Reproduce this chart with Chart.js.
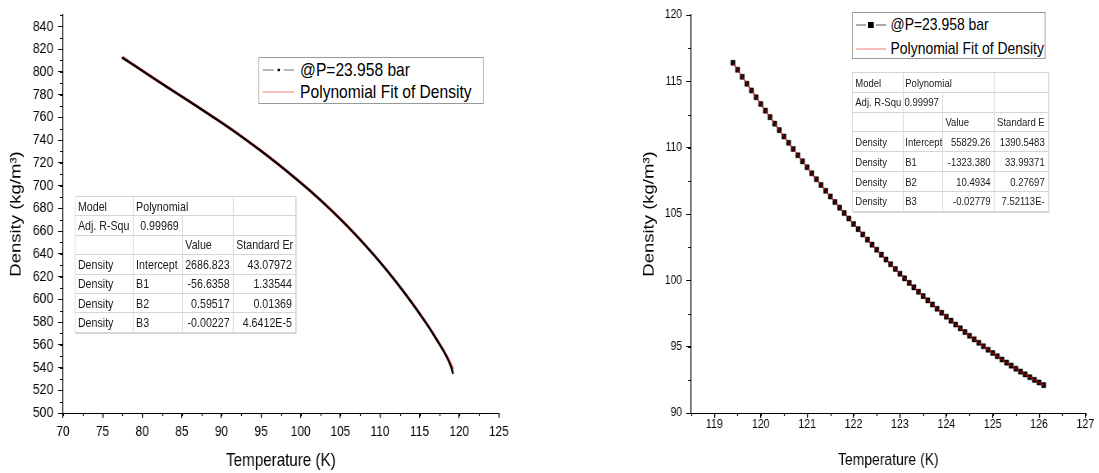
<!DOCTYPE html>
<html>
<head>
<meta charset="utf-8">
<title>Density vs Temperature</title>
<script src="https://cdn.jsdelivr.net/npm/chart.js@4.4.1/dist/chart.umd.min.js"></script>
<style>
  html, body { margin: 0; background: #fff; overflow: hidden; }
  /* the source figure is squeezed horizontally, so the whole page is drawn wide and scaled */
  #fig { position: relative; width: 1341px; height: 473px; background: #fff;
         transform: scaleX(0.82); transform-origin: 0 0;
         font-family: 'Liberation Sans', Arial, sans-serif; color: #000; }
  #fig canvas { position: absolute; top: 0; }
  .legend { position: absolute; box-sizing: border-box; border: 1px solid #999; background: #fff; }
  .legend .row { position: absolute; left: 0; right: 0; height: 20px; line-height: 20px; white-space: nowrap; }
  .legend svg { position: absolute; top: 5px; }
  .legend span { position: absolute; top: 0; }
  table.stats { position: absolute; border-collapse: collapse; table-layout: fixed; background: #fff;
                border: 1px solid #a8a8a8; box-shadow: 1px 1px 0 #d8d8d8; color: #1a1a1a; }
  table.stats td { border: 1px solid #d6d6d6; padding: 0 0 0 3px; overflow: hidden; white-space: nowrap; line-height: 1; }
  table.stats td.r { text-align: right; padding: 0 4px 0 0; }
  table.stats td.t { padding-left: 2px; }
</style>
</head>
<body>
<div id="fig">
  <canvas id="liquid" width="671" height="473" style="left:0"></canvas>
  <canvas id="vapor" width="670" height="473" style="left:671px"></canvas>

  <div class="legend" style="left:315px; top:57px; width:275px; height:47px; font-size:19px">
    <div class="row" style="top:2px">
      <svg width="39" height="10" style="left:4px">
        <line x1="0" y1="5" x2="14" y2="5" stroke="#777" stroke-width="1.2"/>
        <rect x="18.5" y="3.8" width="3" height="2.4" fill="#000"/>
        <line x1="26" y1="5" x2="39" y2="5" stroke="#777" stroke-width="1.2"/>
      </svg>
      <span style="left:50px">@P=23.958 bar</span>
    </div>
    <div class="row" style="top:24px">
      <svg width="39" height="10" style="left:4px">
        <line x1="0" y1="5" x2="39" y2="5" stroke="#f07070" stroke-width="1"/>
      </svg>
      <span style="left:50px">Polynomial Fit of Density</span>
    </div>
  </div>

  <div class="legend" style="left:1039px; top:12px; width:236px; height:47px; font-size:17px">
    <div class="row" style="top:2px">
      <svg width="37" height="10" style="left:4px">
        <line x1="0" y1="5" x2="12" y2="5" stroke="#555" stroke-width="1.2"/>
        <rect x="14.5" y="2" width="7" height="6" fill="#000"/>
        <line x1="24" y1="5" x2="37" y2="5" stroke="#555" stroke-width="1.2"/>
      </svg>
      <span style="left:46px">@P=23.958 bar</span>
    </div>
    <div class="row" style="top:26px">
      <svg width="37" height="10" style="left:4px">
        <line x1="0" y1="5" x2="37" y2="5" stroke="#f07070" stroke-width="1"/>
      </svg>
      <span style="left:46px">Polynomial Fit of Density</span>
    </div>
  </div>

  <table class="stats" style="left:91px; top:196px; width:269px; font-size:13px">
    <colgroup><col style="width:71px"><col style="width:60px"><col style="width:62px"><col style="width:76px"></colgroup>
    <tr style="height:19.4px"><td>Model</td><td colspan="2">Polynomial</td><td></td></tr>
    <tr style="height:19.4px"><td>Adj. R-Squ</td><td class="r">0.99969</td><td></td><td></td></tr>
    <tr style="height:19.4px"><td></td><td></td><td>Value</td><td>Standard Er</td></tr>
    <tr style="height:19.4px"><td>Density</td><td>Intercept</td><td class="r">2686.823</td><td class="r">43.07972</td></tr>
    <tr style="height:19.4px"><td>Density</td><td>B1</td><td class="r">-56.6358</td><td class="r">1.33544</td></tr>
    <tr style="height:19.4px"><td>Density</td><td>B2</td><td class="r">0.59517</td><td class="r">0.01369</td></tr>
    <tr style="height:19.4px"><td>Density</td><td>B3</td><td class="r">-0.00227</td><td class="r">4.6412E-5</td></tr>
  </table>

  <table class="stats" style="left:1039px; top:72px; width:239px; font-size:11.6px">
    <colgroup><col style="width:62px"><col style="width:48px"><col style="width:63px"><col style="width:66px"></colgroup>
    <tr style="height:19.8px"><td>Model</td><td colspan="2" class="t">Polynomial</td><td></td></tr>
    <tr style="height:19.8px"><td>Adj. R-Squ</td><td class="r">0.99997</td><td></td><td></td></tr>
    <tr style="height:19.8px"><td></td><td></td><td>Value</td><td>Standard E</td></tr>
    <tr style="height:19.8px"><td>Density</td><td class="t">Intercept</td><td class="r">55829.26</td><td class="r">1390.5483</td></tr>
    <tr style="height:19.8px"><td>Density</td><td class="t">B1</td><td class="r">-1323.380</td><td class="r">33.99371</td></tr>
    <tr style="height:19.8px"><td>Density</td><td class="t">B2</td><td class="r">10.4934</td><td class="r">0.27697</td></tr>
    <tr style="height:19.8px"><td>Density</td><td class="t">B3</td><td class="r">-0.02779</td><td class="r">7.52113E-</td></tr>
  </table>
</div>

<script>
// liquid branch
const tempLiquid = [77.5, 79, 81, 83, 85, 87, 89, 91, 93, 95, 97, 99, 101, 103, 105, 107, 109, 111, 113, 115, 117, 119, 119.2];
const densLiquid = [812.3, 805.6, 796.4, 787.2, 778.2, 769.2, 760.0, 750.6, 740.7, 730.4, 719.6, 708.3, 696.5, 683.9, 670.5, 656.2, 640.8, 624.3, 606.5, 587.3, 566.2, 540.2, 535.0];
const fitLiquid  = [813.0, 805.8, 796.5, 787.3, 778.3, 769.3, 760.1, 750.7, 740.8, 730.5, 719.7, 708.4, 696.6, 684.0, 670.6, 656.3, 640.9, 624.4, 606.7, 587.6, 566.8, 542.0, 538.5];

// vapour branch (0.1 K steps)
const tempVapor = [119.4, 119.5, 119.6, 119.7, 119.8, 119.9, 120.0, 120.1, 120.2, 120.3,
  120.4, 120.5, 120.6, 120.7, 120.8, 120.9, 121.0, 121.1, 121.2, 121.3,
  121.4, 121.5, 121.6, 121.7, 121.8, 121.9, 122.0, 122.1, 122.2, 122.3,
  122.4, 122.5, 122.6, 122.7, 122.8, 122.9, 123.0, 123.1, 123.2, 123.3,
  123.4, 123.5, 123.6, 123.7, 123.8, 123.9, 124.0, 124.1, 124.2, 124.3,
  124.4, 124.5, 124.6, 124.7, 124.8, 124.9, 125.0, 125.1, 125.2, 125.3,
  125.4, 125.5, 125.6, 125.7, 125.8, 125.9, 126.0, 126.1];
const densVapor = [116.40, 115.87, 115.34, 114.82, 114.31, 113.80, 113.29, 112.79, 112.30, 111.81,
  111.32, 110.84, 110.37, 109.90, 109.43, 108.97, 108.52, 108.07, 107.62, 107.19,
  106.75, 106.32, 105.90, 105.48, 105.07, 104.66, 104.25, 103.86, 103.46, 103.07,
  102.69, 102.31, 101.94, 101.57, 101.21, 100.85, 100.50, 100.15, 99.81, 99.47,
  99.14, 98.81, 98.49, 98.18, 97.86, 97.56, 97.26, 96.96, 96.67, 96.38,
  96.10, 95.82, 95.55, 95.29, 95.03, 94.77, 94.52, 94.28, 94.03, 93.80,
  93.57, 93.34, 93.12, 92.91, 92.70, 92.50, 92.30, 92.10];

const xTicksLiquid = [70, 75, 80, 85, 90, 95, 100, 105, 110, 115, 120, 125];
const yTicksLiquid = [500, 520, 540, 560, 580, 600, 620, 640, 660, 680, 700, 720, 740, 760, 780, 800, 820, 840];
const xTicksVapor = [119, 120, 121, 122, 123, 124, 125, 126, 127];
const yTicksVapor = [90, 95, 100, 105, 110, 115, 120];

const seriesLabel = '@P=23.958 bar';
const fitLabel = 'Polynomial Fit of Density';

const FONT = "'Liberation Sans', Arial, sans-serif";

Chart.defaults.color = '#000';
Chart.defaults.font.family = FONT;

const pts = (xs, ys) => xs.map((x, i) => ({ x: x, y: ys[i] }));

// short unlabelled ticks between the major ones: {x: [step, length], y: [step, length]}
const minorTicks = {
  id: 'minorTicks',
  afterDraw(chart, args, opts) {
    const ctx = chart.ctx;
    ctx.save();
    ctx.strokeStyle = '#000';
    ['x', 'y'].forEach(id => {
      const s = chart.scales[id];
      if (!opts[id] || !s) return;
      const [step, len] = opts[id];
      ctx.lineWidth = s.isHorizontal() ? 1.2 : 1;
      for (let i = Math.ceil(s.min / step - 1e-9); i * step <= s.max + 1e-9; i++) {
        const p = Math.round(s.getPixelForValue(i * step)) + 0.5;
        ctx.beginPath();
        if (s.isHorizontal()) { ctx.moveTo(p, s.top); ctx.lineTo(p, s.top + len); }
        else { ctx.moveTo(s.right, p); ctx.lineTo(s.right - len, p); }
        ctx.stroke();
      }
    });
    ctx.restore();
  }
};

function axis(min, max, ticks, o) {
  const horiz = o.horizontal;
  return {
    type: 'linear', min: min, max: max,
    afterBuildTicks: s => { s.ticks = ticks.map(v => ({ value: v })); },
    afterFit: s => { if (horiz) s.height = 60; else s.width = 76.8; },
    border: { display: true, color: '#000', width: horiz ? 1 : 1.2 },
    grid: { display: true, drawOnChartArea: false, drawTicks: true,
            tickLength: horiz ? 5 : 6, color: '#000', lineWidth: horiz ? 1.2 : 1 },
    ticks: { font: o.tickFont, padding: o.tickPad, maxRotation: 0, autoSkip: false },
    title: { display: true, text: o.title, font: o.titleFont, padding: o.titlePad, color: '#000' }
  };
}

new Chart(document.getElementById('liquid'), {
  type: 'scatter',
  data: {
    datasets: [{
      label: seriesLabel, data: pts(tempLiquid, densLiquid), showLine: true,
      borderColor: '#000', borderWidth: 2.4, cubicInterpolationMode: 'monotone',
      pointRadius: 1, pointBackgroundColor: '#000', pointBorderWidth: 0, order: 0
    }, {
      label: fitLabel, data: pts(tempLiquid, fitLiquid), showLine: true,
      borderColor: 'rgba(255,70,70,0.85)', borderWidth: 3, cubicInterpolationMode: 'monotone',
      pointRadius: 0, order: 1
    }]
  },
  options: {
    responsive: false, animation: false,
    layout: { padding: { left: 0, top: 15, right: 62.7, bottom: 0 } },
    plugins: { legend: { display: false }, tooltip: { enabled: false },
               minorTicks: { x: [2.5, 3], y: [10, 3.7] } },
    scales: {
      x: axis(70, 125, xTicksLiquid, {
        horizontal: true, tickFont: { size: 14.5 }, tickPad: 5,
        title: 'Temperature (K)', titleFont: { size: 18.5 }, titlePad: { top: 0, bottom: 1 }
      }),
      y: axis(500, 850, yTicksLiquid, {
        tickFont: { size: 15 }, tickPad: 5.8,
        title: 'Density (kg/m³)', titleFont: { size: 18.5 }, titlePad: { top: 8.5, bottom: 0 }
      })
    }
  },
  plugins: [minorTicks]
});

new Chart(document.getElementById('vapor'), {
  type: 'scatter',
  data: {
    datasets: [{
      label: seriesLabel, data: pts(tempVapor, densVapor), showLine: true,
      borderColor: '#000', borderWidth: 1,
      pointStyle: 'rect', pointRadius: 3.6, pointBackgroundColor: '#000',
      pointBorderColor: '#000', pointBorderWidth: 0.5, order: 1
    }, {
      label: fitLabel, data: pts(tempVapor, densVapor), showLine: true,
      borderColor: '#e00000', borderWidth: 1, pointRadius: 0, order: 0
    }]
  },
  options: {
    responsive: false, animation: false,
    layout: { padding: { left: 95.1, top: 15, right: 17.3, bottom: 0 } },
    plugins: { legend: { display: false }, tooltip: { enabled: false },
               minorTicks: { x: [0.5, 3], y: [2.5, 3.7] } },
    scales: {
      x: axis(118.5, 127, xTicksVapor, {
        horizontal: true, tickFont: { size: 13, lineHeight: 1 }, tickPad: 0,
        title: 'Temperature (K)', titleFont: { size: 17 }, titlePad: { top: 0, bottom: 2 }
      }),
      y: axis(90, 120, yTicksVapor, {
        tickFont: { size: 12.5 }, tickPad: 5.3,
        title: 'Density (kg/m³)', titleFont: { size: 18.5 }, titlePad: { top: 14.9, bottom: 0 }
      })
    }
  },
  plugins: [minorTicks]
});
</script>
</body>
</html>
